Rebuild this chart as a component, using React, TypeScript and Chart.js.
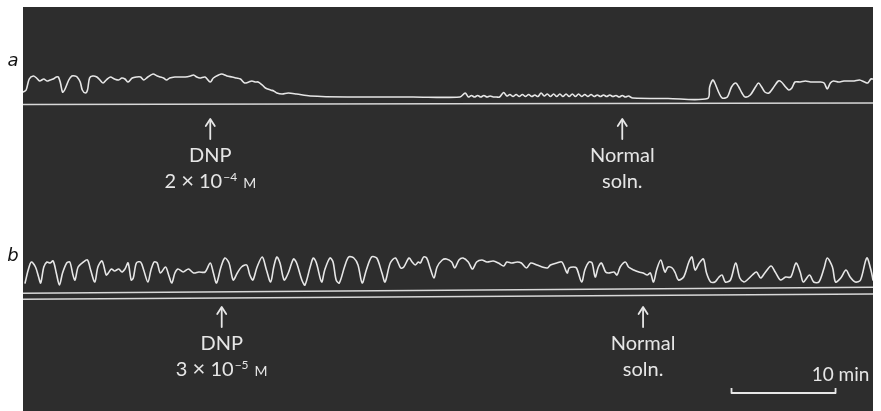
import React, { useEffect, useRef } from "react";
import { Chart, registerables } from "chart.js";

Chart.register(...registerables);

// ---------- data (time in minutes, height in recorder units above each record's base line) ----------
const timeRange = [0, 81.7];

const traceA: [number, number][] = [
  [0.0, 12], [0.3, 14], [0.6, 25], [1.0, 28], [1.3, 26], [1.6, 23], [2.0, 25], [2.3, 23], [2.6, 24], [2.9, 25],
  [3.2, 27], [3.4, 27], [3.6, 21], [3.8, 12], [4.0, 14], [4.4, 24], [4.7, 28], [5.0, 28], [5.2, 27], [5.5, 22],
  [5.7, 14], [6.0, 11], [6.2, 14], [6.4, 26], [6.7, 28], [7.1, 27], [7.4, 24], [7.7, 21], [8.0, 24], [8.4, 27],
  [8.8, 25], [9.2, 24], [9.5, 26], [9.8, 25], [10.1, 22], [10.5, 26], [10.9, 27], [11.3, 27], [11.6, 24], [12.0, 27],
  [12.5, 30], [12.9, 28], [13.2, 27], [13.5, 26], [13.8, 24], [14.1, 26], [14.6, 27], [15.1, 27], [15.6, 27], [16.1, 28],
  [16.4, 29], [16.7, 27], [17.0, 26], [17.5, 27], [18.0, 22], [18.3, 26], [18.8, 29], [19.1, 30], [19.6, 28], [20.1, 27],
  [20.5, 26], [20.9, 25], [21.3, 21], [21.7, 22], [22.0, 23], [22.3, 22], [22.6, 22], [23.0, 19], [23.3, 16], [23.8, 14],
  [24.1, 13], [24.4, 11], [24.9, 10], [25.5, 11], [26.3, 10], [27.6, 8], [31.2, 7], [37.5, 7], [42.0, 7],
  [42.5, 11], [42.8, 7], [43.1, 8.5], [43.4, 7], [43.7, 8.5], [44.0, 7], [44.3, 8.5], [44.6, 7], [44.9, 8], [45.2, 7],
  [45.5, 7], [45.8, 7], [46.2, 11.5], [46.5, 8], [46.8, 9.5], [47.1, 7.5], [47.4, 9.5], [47.7, 7.5], [48.0, 9.5], [48.3, 7.5],
  [48.6, 9.5], [48.9, 7.5], [49.2, 9], [49.5, 7.5], [49.8, 11], [50.1, 8], [50.4, 10], [50.7, 7.5], [51.0, 10], [51.3, 7.5],
  [51.6, 10], [51.9, 7.5], [52.2, 10], [52.5, 7.5], [52.8, 10], [53.1, 7.5], [53.4, 10], [53.7, 7.5], [54.0, 9.5], [54.3, 7.5],
  [54.6, 9.5], [54.9, 7.5], [55.2, 9], [55.5, 7.5], [55.8, 9], [56.1, 7.5], [56.4, 9], [56.7, 7.5], [57.0, 8.5], [57.3, 7],
  [57.6, 8.5], [57.9, 7], [58.2, 8], [58.6, 6], [62.0, 5.5], [65.8, 5.5],
  [66.0, 17], [66.3, 24], [66.5, 21], [66.9, 11], [67.2, 6], [67.7, 7], [68.1, 17], [68.5, 21], [68.8, 17], [69.1, 11],
  [69.4, 7], [69.9, 9], [70.4, 17], [70.7, 21], [71.0, 17], [71.3, 12], [71.7, 11], [72.1, 16], [72.6, 23], [72.9, 22],
  [73.3, 17], [73.6, 14], [73.9, 16], [74.2, 22], [74.7, 22], [75.2, 23], [75.7, 22], [76.2, 22], [76.6, 22], [77.0, 21],
  [77.3, 15], [77.6, 21], [77.9, 23], [78.4, 22], [78.9, 23], [79.4, 23], [79.9, 23], [80.4, 24], [80.9, 22], [81.2, 21],
  [81.5, 25], [81.7, 25],
];

const traceB: [number, number][] = [
  [0.2, 9], [0.5, 22], [0.8, 30], [1.2, 25], [1.5, 15], [1.7, 9], [2.0, 25], [2.3, 30], [2.6, 29], [2.9, 31],
  [3.2, 19], [3.5, 7], [3.8, 19], [4.2, 29], [4.5, 30], [4.8, 17], [5.0, 12], [5.3, 25], [5.8, 30], [6.2, 32],
  [6.5, 22], [6.9, 10], [7.2, 25], [7.6, 31], [8.0, 17], [8.2, 19], [8.5, 23], [8.8, 21], [9.2, 23], [9.5, 20],
  [9.8, 23], [10.1, 29], [10.4, 12], [10.6, 14], [10.9, 29], [11.3, 30], [11.6, 22], [12.0, 10], [12.3, 22], [12.6, 30],
  [12.9, 29], [13.2, 19], [13.7, 25], [14.0, 17], [14.3, 9], [14.6, 19], [14.9, 23], [15.4, 20], [15.9, 23], [16.4, 19],
  [16.9, 20], [17.5, 20], [18.0, 29], [18.3, 19], [18.6, 9], [19.0, 24], [19.4, 34], [19.8, 29], [20.2, 12], [20.6, 19],
  [21.0, 25], [21.5, 27], [21.8, 17], [22.1, 12], [22.5, 25], [23.0, 35], [23.4, 22], [23.8, 10], [24.1, 25], [24.4, 35],
  [24.7, 29], [25.1, 12], [25.5, 19], [26.0, 33], [26.3, 29], [26.8, 12], [27.1, 7], [27.6, 25], [27.9, 34], [28.2, 29],
  [28.7, 10], [29.0, 22], [29.5, 34], [29.8, 30], [30.1, 12], [30.4, 9], [30.9, 25], [31.3, 35], [31.8, 34], [32.2, 27],
  [32.6, 9], [33.0, 22], [33.5, 35], [34.0, 34], [34.5, 19], [34.8, 10], [35.3, 29], [35.8, 34], [36.3, 24], [36.6, 25],
  [37.1, 34], [37.4, 30], [37.7, 27], [38.0, 30], [38.2, 29], [38.5, 35], [38.8, 34], [39.1, 25], [39.5, 14], [39.8, 25],
  [40.3, 32], [40.7, 33], [41.2, 30], [41.5, 24], [41.9, 32], [42.3, 34], [42.8, 30], [43.2, 23], [43.6, 30], [44.1, 32],
  [44.6, 30], [45.2, 31], [45.7, 29], [46.2, 26], [46.5, 30], [47.0, 29], [47.5, 30], [47.9, 29], [48.4, 24], [48.8, 29],
  [49.4, 27], [49.9, 25], [50.4, 24], [50.7, 27], [51.3, 29], [51.8, 30], [52.3, 19], [52.5, 24], [52.9, 25], [53.2, 24],
  [53.7, 10], [54.0, 22], [54.4, 30], [54.7, 29], [55.0, 15], [55.3, 25], [55.6, 29], [56.0, 20], [56.3, 19], [56.8, 20],
  [57.1, 17], [57.4, 25], [57.9, 30], [58.2, 25], [58.7, 22], [59.2, 20], [59.6, 19], [60.0, 17], [60.3, 19], [60.6, 10],
  [60.9, 22], [61.3, 32], [61.7, 20], [62.0, 25], [62.4, 24], [62.7, 19], [63.0, 12], [63.5, 15], [64.0, 30], [64.3, 35],
  [64.6, 22], [65.0, 29], [65.4, 33], [65.7, 19], [66.1, 10], [66.5, 10], [66.9, 15], [67.2, 17], [67.5, 10], [68.0, 12],
  [68.5, 29], [68.9, 14], [69.3, 10], [69.6, 12], [70.1, 17], [70.5, 20], [70.9, 14], [71.3, 19], [71.9, 26], [72.3, 20],
  [72.8, 12], [73.3, 15], [73.8, 15], [74.3, 29], [74.7, 20], [75.0, 10], [75.6, 17], [76.0, 10], [76.5, 10], [77.0, 24],
  [77.3, 34], [77.8, 25], [78.1, 10], [78.6, 14], [79.1, 22], [79.5, 15], [80.0, 10], [80.5, 12], [81.1, 34], [81.5, 22],
  [81.7, 12],
];

// base (zero) lines of the records: level at start and end of the record
const baseLineA = [306.5, 308];
const baseLineB1 = [117.8, 123.7];
const baseLineB2 = [111.8, 117];

const panelLabels = ["a", "b"];

const eventsA = [
  { t: 18.0, title: "DNP", conc: "2 × 10", exp: "−4", unit: "M" },
  { t: 57.6, title: "Normal", conc: "soln." },
];
const eventsB = [
  { t: 19.1, title: "DNP", conc: "3 × 10", exp: "−5", unit: "M" },
  { t: 59.6, title: "Normal", conc: "soln." },
];

const scaleBarRange = [68.1, 78.1];
const scaleBarLabel = "10 min";

// ---------- styling ----------
const PANEL_OFFSET_A = 307;
const PANEL_OFFSET_B = 119;
const Y_MAX = 404;
const BG = "#2d2d2d";
const INK = "#e6e6e6";
const FONT = "Lato, 'Open Sans', sans-serif";

type Ev = { t: number; title: string; conc: string; exp?: string; unit?: string };

function drawEvent(ctx: CanvasRenderingContext2D, x: number, yLine: number, ev: Ev) {
  ctx.strokeStyle = INK;
  ctx.fillStyle = INK;
  ctx.lineWidth = 1.8;
  ctx.lineCap = "round";
  ctx.lineJoin = "round";
  const top = yLine + 15;
  const bottom = yLine + 35;
  ctx.beginPath();
  ctx.moveTo(x, top + 1);
  ctx.lineTo(x, bottom);
  ctx.stroke();
  ctx.beginPath();
  ctx.moveTo(x - 4.5, top + 7);
  ctx.lineTo(x, top);
  ctx.lineTo(x + 4.5, top + 7);
  ctx.stroke();

  ctx.textBaseline = "alphabetic";
  ctx.textAlign = "center";
  ctx.font = `20px ${FONT}`;
  ctx.fillText(ev.title, x, yLine + 58);

  const y2 = yLine + 84;
  if (ev.exp && ev.unit) {
    const mainFont = `20px ${FONT}`;
    const crossFont = `22px ${FONT}`;
    const supFont = `12px ${FONT}`;
    const unitFont = `14px ${FONT}`;
    const parts = ev.conc.split("×");
    ctx.font = mainFont;
    const wa = ctx.measureText(parts[0]).width;
    const wc = ctx.measureText(parts[1]).width;
    ctx.font = crossFont;
    const wx = ctx.measureText("×").width;
    ctx.font = supFont;
    const w2 = ctx.measureText(ev.exp).width;
    ctx.font = unitFont;
    const w3 = ctx.measureText(ev.unit).width;
    const gap = 6;
    const total = wa + wx + wc + 1 + w2 + gap + w3;
    let cx = x - total / 2;
    ctx.textAlign = "left";
    ctx.font = mainFont;
    ctx.fillText(parts[0], cx, y2);
    cx += wa;
    ctx.font = crossFont;
    ctx.fillText("×", cx, y2);
    cx += wx;
    ctx.font = mainFont;
    ctx.fillText(parts[1], cx, y2);
    cx += wc + 1;
    ctx.font = supFont;
    ctx.fillText(ev.exp, cx, y2 - 7);
    cx += w2 + gap;
    ctx.font = unitFont;
    ctx.fillText(ev.unit, cx, y2);
  } else {
    ctx.font = `20px ${FONT}`;
    ctx.fillText(ev.conc, x, y2);
  }
}

const figurePlugin = {
  id: "kymograph",
  beforeDraw(chart: any) {
    const { ctx, chartArea: a } = chart;
    ctx.save();
    ctx.fillStyle = "#ffffff";
    ctx.fillRect(0, 0, chart.width, chart.height);
    ctx.fillStyle = BG;
    ctx.fillRect(a.left, a.top, a.right - a.left, a.bottom - a.top);
    ctx.restore();
  },
  afterDatasetsDraw(chart: any) {
    const { ctx } = chart;
    const xs = chart.scales.x;
    const ys = chart.scales.y;
    ctx.save();
    const yA = ys.getPixelForValue(PANEL_OFFSET_A);
    const yB = ys.getPixelForValue(PANEL_OFFSET_B);

    // panel letters
    ctx.fillStyle = "#111";
    ctx.font = "italic 18px 'DejaVu Sans', sans-serif";
    ctx.textAlign = "center";
    ctx.textBaseline = "middle";
    ctx.fillText(panelLabels[0], 13, yA - 43);
    ctx.fillText(panelLabels[1], 13, yB - 36);

    eventsA.forEach((ev) => drawEvent(ctx, xs.getPixelForValue(ev.t), yA, ev));
    eventsB.forEach((ev) => drawEvent(ctx, xs.getPixelForValue(ev.t), yB, ev));

    // time scale bar
    const x0 = xs.getPixelForValue(scaleBarRange[0]);
    const x1 = xs.getPixelForValue(scaleBarRange[1]);
    const yBar = yB + 101;
    ctx.strokeStyle = INK;
    ctx.lineWidth = 1.8;
    ctx.lineCap = "butt";
    ctx.beginPath();
    ctx.moveTo(x0, yBar - 5);
    ctx.lineTo(x0, yBar);
    ctx.lineTo(x1, yBar);
    ctx.lineTo(x1, yBar - 5);
    ctx.stroke();
    ctx.fillStyle = INK;
    ctx.font = `19px ${FONT}`;
    ctx.textAlign = "center";
    ctx.textBaseline = "alphabetic";
    ctx.fillText(scaleBarLabel, x1 + 5, yBar - 12);
    ctx.restore();
  },
};

function lineData(level: number[]) {
  return [
    { x: timeRange[0], y: level[0] },
    { x: timeRange[1], y: level[1] },
  ];
}

export default function App() {
  const ref = useRef<HTMLCanvasElement | null>(null);

  useEffect(() => {
    document.body.style.margin = "0";
    document.body.style.background = "#ffffff";
    const canvas = ref.current;
    if (!canvas) return;
    const traceStyle = {
      borderColor: INK,
      borderWidth: 1.6,
      pointRadius: 0,
      tension: 0.3,
      fill: false,
      borderJoinStyle: "round" as const,
      borderCapStyle: "round" as const,
    };
    const baseStyle = {
      borderColor: "#d8d8d8",
      borderWidth: 1.5,
      pointRadius: 0,
      tension: 0,
      fill: false,
    };
    const chart = new Chart(canvas, {
      type: "line",
      data: {
        datasets: [
          { label: "Record a", data: traceA.map(([t, h]) => ({ x: t, y: PANEL_OFFSET_A + h })), ...traceStyle },
          { label: "Base a", data: lineData(baseLineA), ...baseStyle },
          { label: "Record b", data: traceB.map(([t, h]) => ({ x: t, y: PANEL_OFFSET_B + h })), ...traceStyle },
          { label: "Base b (1)", data: lineData(baseLineB1), ...baseStyle },
          { label: "Base b (2)", data: lineData(baseLineB2), ...baseStyle },
        ],
      },
      options: {
        responsive: false,
        animation: false,
        devicePixelRatio: 1,
        layout: { padding: { left: 23, top: 7, right: 8, bottom: 0 } },
        plugins: { legend: { display: false }, tooltip: { enabled: false } },
        scales: {
          x: { type: "linear", min: timeRange[0], max: timeRange[1], display: false },
          y: { type: "linear", min: 0, max: Y_MAX, display: false },
        },
      },
      plugins: [figurePlugin],
    });
    return () => chart.destroy();
  }, []);

  return <canvas ref={ref} width={881} height={411} style={{ display: "block" }} />;
}
